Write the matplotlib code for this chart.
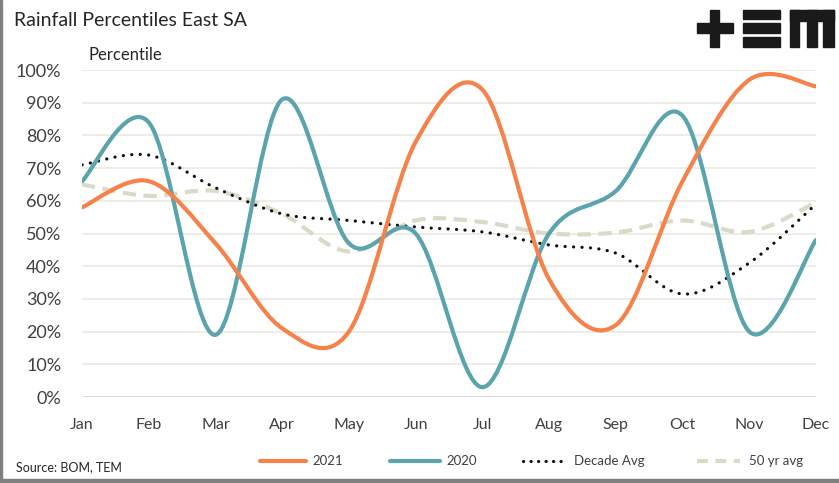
import matplotlib
matplotlib.use("Agg")
import matplotlib.pyplot as plt
from matplotlib.path import Path
from matplotlib.patches import PathPatch, Rectangle
from matplotlib.lines import Line2D
import numpy as np

months = ["Jan", "Feb", "Mar", "Apr", "May", "Jun", "Jul", "Aug", "Sep", "Oct", "Nov", "Dec"]
y2021 = [58, 66, 47, 21, 20, 78, 94, 36, 22, 66, 97, 95]
y2020 = [66, 84, 19, 91, 47, 50, 3, 50, 63, 86, 20, 48]
decade = [71, 74, 64, 56, 54, 52, 50.5, 46.5, 44, 31.5, 41, 59]
fifty = [65, 61.5, 63, 56, 44.5, 54, 53.5, 50, 50.3, 54, 50.5, 59.5]
yticks = [0, 10, 20, 30, 40, 50, 60, 70, 80, 90, 100]
series_names = ["2021", "2020", "Decade Avg", "50 yr avg"]

C2021 = "#F5814B"
C2020 = "#5BA4AD"
CDEC = "#111111"
C50 = "#D8DBC8"
TXT = "#404040"

plt.rcParams['font.family'] = ['Lato', 'DejaVu Sans']

W, H = 839, 483
fig = plt.figure(figsize=(W / 100, H / 100), dpi=100)
ax = fig.add_axes([82 / W, 1 - 397 / H, (816 - 82) / W, (397 - 70) / H])


def smooth_path(xs, ys):
    xs = np.asarray(xs, float)
    ys = np.asarray(ys, float)
    n = len(xs)
    verts = [(xs[0], ys[0])]
    codes = [Path.MOVETO]
    for i in range(n - 1):
        p0 = np.array([xs[max(i - 1, 0)], ys[max(i - 1, 0)]])
        p1 = np.array([xs[i], ys[i]])
        p2 = np.array([xs[i + 1], ys[i + 1]])
        p3 = np.array([xs[min(i + 2, n - 1)], ys[min(i + 2, n - 1)]])
        c1 = p1 + (p2 - p0) / 6.0
        c2 = p2 - (p3 - p1) / 6.0
        verts += [tuple(c1), tuple(c2), tuple(p2)]
        codes += [Path.CURVE4] * 3
    return Path(verts, codes)


x = np.arange(len(months))
for yy in yticks[1:]:
    ax.axhline(yy, color="#ECECE1", lw=1.3, zorder=0)
ax.axhline(0, color="#D9D9D9", lw=1.3, zorder=0)

styles = [
    dict(color=C2021, lw=3.0, linestyle="-", capstyle="round", z=5),
    dict(color=C2020, lw=3.0, linestyle="-", capstyle="round", z=4),
    dict(color=CDEC, lw=2.3, linestyle=(0, (0.05, 2.6)), capstyle="round", z=3),
    dict(color=C50, lw=3.0, linestyle=(0, (3.2, 1.8)), capstyle="butt", z=2),
]
for ys, st in zip([y2021, y2020, decade, fifty], styles):
    patch = PathPatch(smooth_path(x, ys), facecolor="none", edgecolor=st["color"],
                      lw=st["lw"], linestyle=st["linestyle"],
                      capstyle=st["capstyle"], joinstyle="round", zorder=st["z"])
    ax.add_patch(patch)

ax.set_xlim(0, len(months) - 1)
ax.set_ylim(0, 100)
ax.set_xticks(x)
ax.set_xticklabels(months)
ax.set_yticks(yticks)
ax.set_yticklabels([f"{v}%" for v in yticks])
ax.tick_params(axis="both", length=0, colors=TXT)
ax.tick_params(axis="y", labelsize=13, pad=15)
ax.tick_params(axis="x", labelsize=11.5, pad=15)
for s in ax.spines.values():
    s.set_visible(False)

fig.text(14 / W, 1 - 20 / H, "Rainfall Percentiles East SA", fontsize=14, color="#262626",
         ha="left", va="center")
fig.text(88 / W, 1 - 55 / H, "Percentile", fontsize=12, color="#262626", ha="left", va="center")
fig.text(16 / W, 1 - 467 / H, "Source: BOM, TEM", fontsize=9, color="#262626",
         ha="left", va="center")

# legend (manual placement)
leg_y = 1 - 461 / H
leg_lines = [(260, 306), (390, 440), (523, 568), (697, 740)]
leg_text_x = [312, 446, 574, 749]
leg_styles = [
    dict(color=C2021, lw=3.0, linestyle="-", solid_capstyle="round"),
    dict(color=C2020, lw=3.0, linestyle="-", solid_capstyle="round"),
    dict(color=CDEC, lw=2.3, linestyle=(0, (0.05, 2.3)), dash_capstyle="round"),
    dict(color=C50, lw=3.0, linestyle=(0, (2.6, 1.8))),
]
for (x0, x1), tx, name, st in zip(leg_lines, leg_text_x, series_names, leg_styles):
    fig.add_artist(Line2D([x0 / W, x1 / W], [leg_y, leg_y], transform=fig.transFigure, **st))
    fig.text(tx / W, leg_y, name, fontsize=9.5, color=TXT, ha="left", va="center")

# logo
def frect(x0, y0, x1, y1, color="#1A1A1A"):
    fig.patches.append(Rectangle((x0 / W, 1 - y1 / H), (x1 - x0) / W, (y1 - y0) / H,
                                 transform=fig.transFigure, color=color, zorder=10))

frect(697, 23, 733, 33)
frect(710, 10, 719, 47)
frect(743, 10, 780, 19)
frect(743, 23, 780, 33)
frect(743, 37, 780, 47)
frect(790, 10, 834, 21)
frect(790, 10, 799, 47)
frect(807, 10, 817, 47)
frect(823, 10, 834, 47)

# border
frect(0, 0, 2, 483, color="#808080")
frect(0, 479, 839, 483, color="#808080")

fig.savefig("out.png", dpi=100, facecolor="white")
